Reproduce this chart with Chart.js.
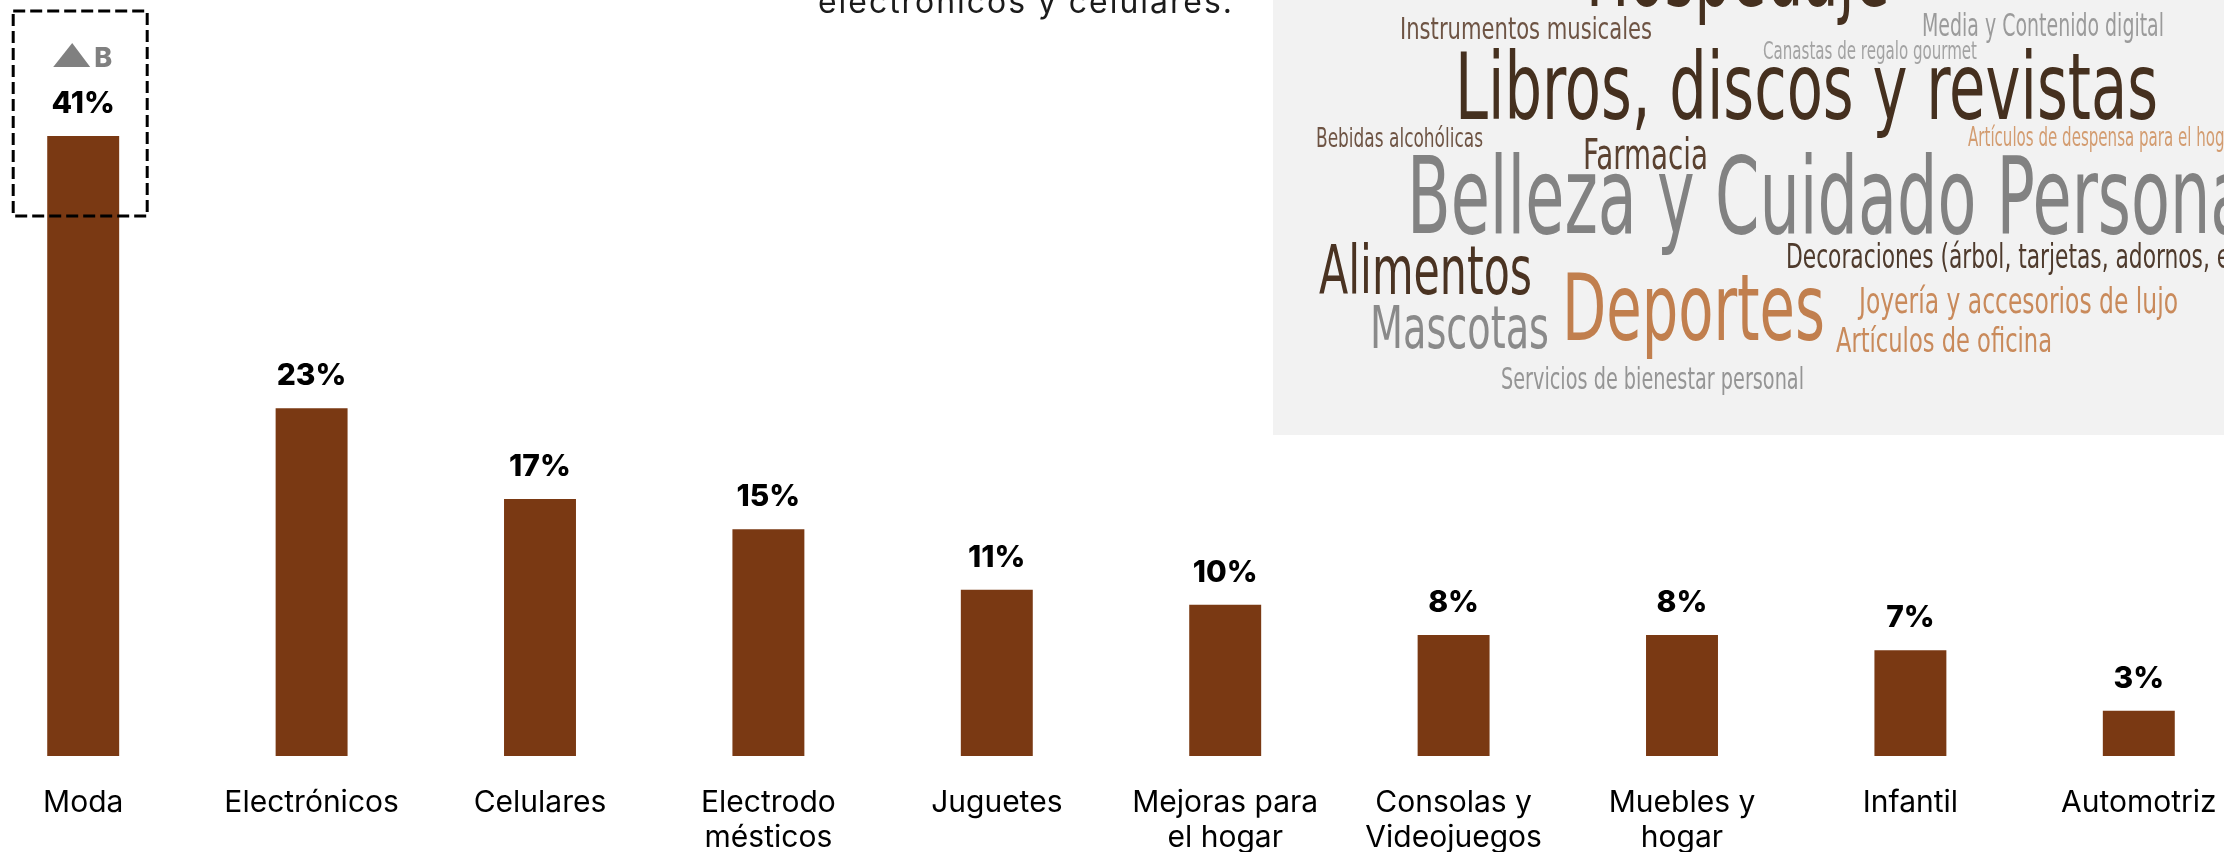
<!DOCTYPE html>
<html>
<head>
<meta charset="utf-8">
<script src="https://cdn.jsdelivr.net/npm/chart.js@4"></script>
<style>
  html, body { margin: 0; padding: 0; background: #fff; }
  #page { position: relative; width: 2224px; height: 852px; overflow: hidden; }
  #chart { position: absolute; left: -31px; top: 0; }
  #overlay { position: absolute; left: 0; top: 0; pointer-events: none; }
</style>
</head>
<body>
<div id="page">
  <canvas id="chart" width="2284" height="852"></canvas>
  <canvas id="overlay" width="2224" height="852"></canvas>
</div>
<script>
// share of purchases by category (%)
const categories = [
  "Moda",
  "Electrónicos",
  "Celulares",
  ["Electrodo", "mésticos"],
  "Juguetes",
  ["Mejoras para", "el hogar"],
  ["Consolas y", "Videojuegos"],
  ["Muebles y", "hogar"],
  "Infantil",
  "Automotriz",
];
const shares = [41, 23, 17, 15, 11, 10, 8, 8, 7, 3];
const valueLabels = shares.map(v => v + "%");

// other categories mentioned, as a word cloud
const cloudWords = [
  "Hospedaje",
  "Instrumentos musicales",
  "Media y Contenido digital",
  "Canastas de regalo gourmet",
  "Libros, discos y revistas",
  "Bebidas alcohólicas",
  "Artículos de despensa para el hogar",
  "Farmacia",
  "Belleza y Cuidado Personal",
  "Decoraciones (árbol, tarjetas, adornos, etc.)",
  "Alimentos",
  "Mascotas",
  "Deportes",
  "Joyería y accesorios de lujo",
  "Artículos de oficina",
  "Servicios de bienestar personal",
];

const BAR = "#7a3913";
const FONT = "Inter, 'Noto Sans', sans-serif";

// value labels + highlight box on the top category
const barLabels = {
  id: "barLabels",
  afterDatasetsDraw(chart) {
    const ctx = chart.ctx;
    const bars = chart.getDatasetMeta(0).data;
    ctx.save();
    ctx.font = "800 30px " + FONT;
    ctx.fillStyle = "#000";
    ctx.textAlign = "center";
    ctx.textBaseline = "alphabetic";
    bars.forEach((bar, i) => ctx.fillText(valueLabels[i], bar.x, bar.y - 23));

    const first = bars[0];
    const cx = first.x, top = first.y;

    // small up-arrow + B badge
    ctx.fillStyle = "#808080";
    ctx.beginPath();
    ctx.moveTo(cx - 30, top - 69);
    ctx.lineTo(cx - 11, top - 93);
    ctx.lineTo(cx + 7, top - 69);
    ctx.closePath();
    ctx.fill();
    ctx.font = "800 27px " + FONT;
    ctx.textAlign = "left";
    ctx.fillText("B", cx + 11, top - 69);

    // dashed frame
    ctx.strokeStyle = "#000";
    ctx.lineWidth = 3;
    ctx.setLineDash([12, 5]);
    ctx.strokeRect(cx - 70, top - 125, 134, 205);
    ctx.restore();
  },
};

new Chart(document.getElementById("chart"), {
  type: "bar",
  data: {
    labels: categories,
    datasets: [
      {
        data: shares,
        backgroundColor: BAR,
        borderWidth: 0,
        barPercentage: 0.315,
        categoryPercentage: 1,
      },
    ],
  },
  options: {
    responsive: false,
    animation: false,
    devicePixelRatio: 1,
    layout: { padding: 0 },
    plugins: {
      legend: { display: false },
      tooltip: { enabled: false },
    },
    scales: {
      x: {
        grid: { display: false },
        border: { display: false },
        ticks: {
          color: "#000",
          padding: 22,
          maxRotation: 0,
          autoSkip: false,
          font: { family: FONT, size: 30, lineHeight: 1.15 },
        },
        afterFit(scale) {
          scale.height = 96;
        },
      },
      y: {
        display: false,
        min: 0,
        max: 50,
      },
    },
  },
  plugins: [barLabels],
});

// header line and word-cloud panel
(function () {
  const ctx = document.getElementById("overlay").getContext("2d");

  ctx.fillStyle = "#1b1b1b";
  ctx.font = "32px " + FONT;
  ctx.letterSpacing = "2px";
  ctx.textBaseline = "alphabetic";
  ctx.fillText("electrónicos y celulares.", 818, 13, 416);
  ctx.letterSpacing = "0px";

  ctx.fillStyle = "#f2f2f2";
  ctx.fillRect(1273, 0, 951, 435);

  // x, baseline, cap height, width, colour for each cloud word
  const layout = [
    [1586, 6, 68, 304, "#45301f"],
    [1400, 39, 22, 252, "#6e5444"],
    [1922, 36, 23, 242, "#9b9b9b"],
    [1763, 59, 18, 214, "#a3a3a3"],
    [1455, 119, 68, 703, "#45301f"],
    [1316, 147, 20, 167, "#6e5444"],
    [1968, 146, 20, 272, "#d39c70"],
    [1583, 169, 31, 125, "#5a4130"],
    [1407, 233, 78, 860, "#828282"],
    [1786, 268, 24, 480, "#4e3a2c"],
    [1319, 294, 49, 213, "#4a3322"],
    [1370, 348, 43, 179, "#8a8a8a"],
    [1562, 340, 67, 263, "#c17f4e"],
    [1859, 313, 26, 319, "#c98a5b"],
    [1836, 352, 25, 216, "#c98a5b"],
    [1501, 389, 22, 303, "#959595"],
  ];

  ctx.save();
  ctx.beginPath();
  ctx.rect(1273, 0, 951, 435);
  ctx.clip();
  ctx.textAlign = "left";
  cloudWords.forEach((word, i) => {
    const [x, base, cap, w, color] = layout[i];
    ctx.font = Math.round(cap / 0.729) + "px 'DejaVu Sans Condensed', 'DejaVu Sans', sans-serif";
    ctx.fillStyle = color;
    ctx.fillText(word, x, base, w);
  });
  ctx.restore();
})();
</script>
</body>
</html>
